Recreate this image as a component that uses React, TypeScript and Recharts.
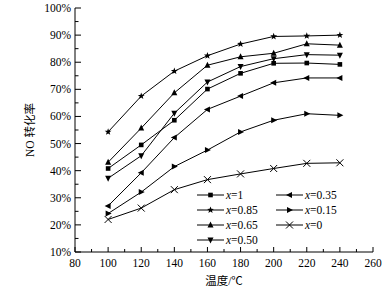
import React from 'react';
import { LineChart, Line, XAxis, YAxis, Legend } from 'recharts';

const temps = [100, 120, 140, 160, 180, 200, 220, 240];
const x1 = [40.8, 49.5, 58.6, 70.1, 75.9, 79.6, 79.7, 79.2];
const x085 = [54.3, 67.5, 76.7, 82.4, 86.7, 89.5, 89.7, 90.0];
const x065 = [43.1, 55.7, 68.7, 78.9, 82.0, 83.3, 86.8, 86.3];
const x050 = [37.2, 45.5, 61.2, 72.7, 78.4, 81.3, 82.8, 82.6];
const x035 = [27.0, 39.2, 52.2, 62.6, 67.5, 72.4, 74.2, 74.2];
const x015 = [24.2, 32.1, 41.5, 47.6, 54.3, 58.6, 61.0, 60.4];
const x0 = [22.0, 26.2, 33.0, 36.7, 38.8, 40.8, 42.7, 42.9];

const xTicks = [80, 90, 100, 110, 120, 130, 140, 150, 160, 170, 180, 190, 200, 210, 220, 230, 240, 250, 260];
const yTicks = [10, 15, 20, 25, 30, 35, 40, 45, 50, 55, 60, 65, 70, 75, 80, 85, 90, 95, 100];

const series = [
  { key: 'x1', label: '1', values: x1, shape: 'square' },
  { key: 'x085', label: '0.85', values: x085, shape: 'star' },
  { key: 'x065', label: '0.65', values: x065, shape: 'up' },
  { key: 'x050', label: '0.50', values: x050, shape: 'down' },
  { key: 'x035', label: '0.35', values: x035, shape: 'left' },
  { key: 'x015', label: '0.15', values: x015, shape: 'right' },
  { key: 'x0', label: '0', values: x0, shape: 'cross' },
];

const data = temps.map((t, i) => {
  const row: any = { t };
  series.forEach((s) => (row[s.key] = s.values[i]));
  return row;
});

const FONT = '"Liberation Serif", "Times New Roman", serif';
const CJK = '"Liberation Serif", "Noto Sans CJK SC", serif';

function markerEl(shape: string, cx: number, cy: number, key?: any) {
  const c = '#000';
  const r = 3;
  switch (shape) {
    case 'square':
      return <rect key={key} x={cx - 2.3} y={cy - 2.3} width={4.6} height={4.6} fill={c} />;
    case 'star': {
      const pts: string[] = [];
      for (let i = 0; i < 10; i++) {
        const ang = -Math.PI / 2 + (i * Math.PI) / 5;
        const rr = i % 2 === 0 ? 3.6 : 1.5;
        pts.push(`${cx + rr * Math.cos(ang)},${cy + rr * Math.sin(ang)}`);
      }
      return <polygon key={key} points={pts.join(' ')} fill={c} />;
    }
    case 'up':
      return <polygon key={key} points={`${cx},${cy - r - 0.5} ${cx - r},${cy + r - 0.5} ${cx + r},${cy + r - 0.5}`} fill={c} />;
    case 'down':
      return <polygon key={key} points={`${cx},${cy + r + 0.5} ${cx - r},${cy - r + 0.5} ${cx + r},${cy - r + 0.5}`} fill={c} />;
    case 'left':
      return <polygon key={key} points={`${cx - r - 0.5},${cy} ${cx + r - 0.5},${cy - r} ${cx + r - 0.5},${cy + r}`} fill={c} />;
    case 'right':
      return <polygon key={key} points={`${cx + r + 0.5},${cy} ${cx - r + 0.5},${cy - r} ${cx - r + 0.5},${cy + r}`} fill={c} />;
    case 'cross':
    default:
      return (
        <g key={key}>
          <line x1={cx - 3.5} y1={cy - 3.5} x2={cx + 3.5} y2={cy + 3.5} stroke={c} strokeWidth={1} />
          <line x1={cx - 3.5} y1={cy + 3.5} x2={cx + 3.5} y2={cy - 3.5} stroke={c} strokeWidth={1} />
        </g>
      );
  }
}

const XTick = (props: any) => {
  const { x, y, payload } = props;
  const v = payload.value;
  const major = v % 20 === 0;
  return (
    <g>
      <line x1={x} y1={y} x2={x} y2={y - (major ? 5 : 3)} stroke="#000" strokeWidth={1} />
      {major && (
        <text x={x} y={y + 15} textAnchor="middle" fontSize={11.5} fontFamily={FONT} fill="#000">
          {v}
        </text>
      )}
    </g>
  );
};

const YTick = (props: any) => {
  const { x, y, payload } = props;
  const v = payload.value;
  const major = v % 10 === 0;
  return (
    <g>
      <line x1={x} y1={y} x2={x + (major ? 6 : 3.5)} y2={y} stroke="#000" strokeWidth={1} />
      {major && (
        <text x={x - 4} y={y + 4} textAnchor="end" fontSize={11.5} fontFamily={FONT} fill="#000">
          {v}%
        </text>
      )}
    </g>
  );
};

const LegendContent = () => {
  const col1 = series.slice(0, 4);
  const col2 = series.slice(4);
  const rowH = 15;
  const renderItem = (s: any, i: number, ox: number) => {
    const cy = 8 + i * rowH;
    return (
      <g key={s.key}>
        <line x1={ox} y1={cy} x2={ox + 27} y2={cy} stroke="#000" strokeWidth={1} />
        {markerEl(s.shape, ox + 13.5, cy)}
        <text x={ox + 29} y={cy + 4} fontSize={11.5} fontFamily={FONT} fill="#000">
          <tspan fontStyle="italic">x</tspan>={s.label}
        </text>
      </g>
    );
  };
  return (
    <svg width={170} height={70} style={{ overflow: 'visible', display: 'block' }}>
      {col1.map((s, i) => renderItem(s, i, 0))}
      {col2.map((s, i) => renderItem(s, i, 79))}
    </svg>
  );
};

export default function App() {
  return (
    <div style={{ position: 'absolute', left: 0, top: 0, width: 389, height: 293, background: '#fff' }}>
      <LineChart
        width={389}
        height={293}
        data={data}
        margin={{ top: 8, right: 16, bottom: 0, left: 0 }}
      >
        <XAxis
          dataKey="t"
          type="number"
          domain={[80, 260]}
          ticks={xTicks}
          interval={0}
          tick={<XTick />}
          tickSize={0}
          tickMargin={0}
          tickLine={false}
          height={41}
          stroke="#000"
          axisLine={{ stroke: '#000', strokeWidth: 1 }}
          label={{ value: '温度/℃', position: 'insideBottom', offset: 8, fontSize: 11.5, fontFamily: CJK, fill: '#000' }}
        />
        <YAxis
          type="number"
          domain={[10, 100]}
          ticks={yTicks}
          interval={0}
          tick={<YTick />}
          tickSize={0}
          tickMargin={0}
          tickLine={false}
          width={75}
          axisLine={{ stroke: '#000', strokeWidth: 1 }}
          label={{ value: 'NO 转化率', angle: -90, position: 'insideLeft', offset: 30, fontSize: 11.5, fontFamily: CJK, fill: '#000', style: { textAnchor: 'middle' } }}
        />
        <Legend
          layout="horizontal"
          align="center"
          verticalAlign="middle"
          content={<LegendContent />}
          wrapperStyle={{ position: 'absolute', left: 197, top: 187, width: 170, height: 70 }}
        />
        {series.map((s) => (
          <Line
            key={s.key}
            dataKey={s.key}
            stroke="#000"
            strokeWidth={1}
            isAnimationActive={false}
            dot={(p: any) => markerEl(s.shape, p.cx, p.cy, p.key ?? `${s.key}-${p.index}`)}
            activeDot={false}
          />
        ))}
      </LineChart>
    </div>
  );
}
